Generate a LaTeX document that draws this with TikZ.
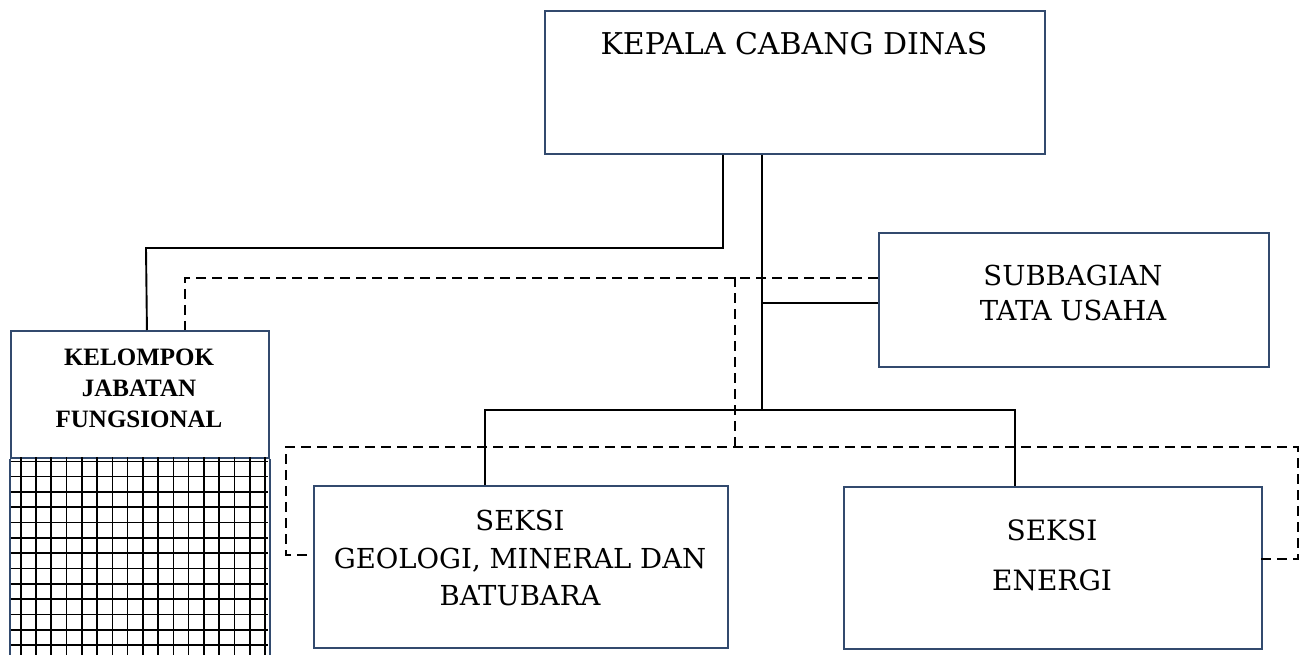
\documentclass[tikz,border=0pt]{standalone}
\usepackage{fontspec}
\setmainfont{DejaVu Serif}
\newfontfamily\timesfont{Liberation Serif}
\usepackage{tikz}

\definecolor{boxblue}{RGB}{50,74,110}

\begin{document}
\begin{tikzpicture}[x=1pt, y=-1pt,
    box/.style={draw=boxblue, line width=1.9pt, rectangle, inner sep=0pt, anchor=north west},
    txt/.style={inner sep=0pt, anchor=north, align=center, font={\fontsize{28}{37}\selectfont}},
    conn/.style={line width=1.9pt},
    dashline/.style={line width=1.9pt, dash pattern=on 10pt off 6pt}]
    \useasboundingbox (0,0) rectangle (1301,655);
    \node [box, minimum width=500pt, minimum height=143pt] (kepala) at (544, 10) {};
    \node [box, minimum width=390pt, minimum height=134pt] (subbagian) at (878, 232) {};
    \node [box, minimum width=258pt, minimum height=127pt] (kelompok) at (10, 330) {};
    \node [box, minimum width=414pt, minimum height=162pt] (geologi) at (313, 485) {};
    \node [box, minimum width=418pt, minimum height=162pt] (energi) at (843, 486) {};
    \node [txt, font={\fontsize{30}{37}\selectfont}] (kepala-t) at (794, 32) {KEPALA CABANG DINAS};
    \node [txt, font={\fontsize{27.5}{35}\selectfont}] (subbagian-t) at (1073, 265) {SUBBAGIAN\\TATA USAHA};
    \node [txt, font={\fontsize{27.5}{37.5}\selectfont}] (geologi-t) at (520, 510) {SEKSI\\GEOLOGI, MINERAL DAN\\BATUBARA};
    \node [txt, font={\fontsize{28}{50}\selectfont}] (energi-t) at (1052, 520) {SEKSI\\ENERGI};
    \node [txt, font={\timesfont\bfseries\fontsize{25}{31}\selectfont}] (kelompok-t) at (139, 349) {KELOMPOK\\JABATAN\\FUNGSIONAL};
    % grid under the functional group
    \begin{scope}
    \clip (10, 457) rectangle (268, 655);
    \foreach \i in {0,...,16}
        \draw [line width=1.6pt] (20.7+15.27*\i, 457) -- ++(0, 200);
    \foreach \j in {0,...,12}
        \draw [line width=1.6pt] (10, 461.3+15.33*\j) -- (268, 461.3+15.33*\j);
    \end{scope}
    \draw [boxblue, line width=1.9pt] (kelompok.south west) -- ++(0, 200);
    \draw [boxblue, line width=1.9pt] (kelompok.south east) -- ++(0, 200);
    % solid lines
    \coordinate (hub) at (762, 410);
    \coordinate (sbw) at ([yshift=-3pt]subbagian.west);
    \draw [conn] ([xshift=179pt]kepala.south west) |- (146, 248) -- ([xshift=7pt]kelompok.north);
    \draw [conn] ([xshift=218pt]kepala.south west) -- (hub);
    \draw [conn] (sbw) -- (sbw -| hub);
    \draw [conn] ([xshift=-36pt]geologi.north) |- (hub) -| ([xshift=-38pt]energi.north);
    % dashed lines
    \coordinate (sbd) at ([yshift=22pt]subbagian.west);
    \coordinate (dl) at (286, 447);
    \coordinate (dr) at (1298, 447);
    \draw [dashline] (sbd) -| ([xshift=45pt]kelompok.north);
    \draw [dashline] (735, 277) -- (735, 447);
    \draw [dashline] ([shift={(-6pt,12pt)}]geologi.west) -| (dl) -- (dr) |- ([shift={(-3pt,9pt)}]energi.east);
\end{tikzpicture}
\end{document}
